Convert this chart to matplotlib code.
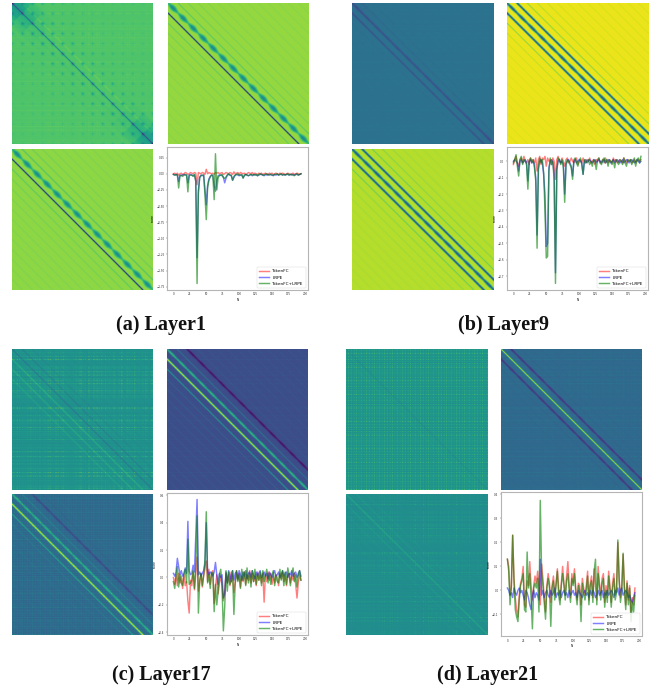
import numpy as np
import matplotlib
matplotlib.use("Agg")
import matplotlib.pyplot as plt

W=667; H=692
N=197; PATCH=14

#x grid of the curves, every second token
xs=list(range(0,196,2))

#--- Layer1 curves
a_fc=[.00,.01,-.01,.01,-.02,.00,.01,-.01,.00,.02,
.01,-.01,.00,.02,.01,.00,.02,.01,-.17,.02,
.01,.00,.02,.01,-.01,.07,.00,.02,.01,.00,
.01,-.01,.02,.01,.02,.00,.01,.02,-.01,.00,
.02,.01,.00,.02,.01,-.01,.03,.00,.01,.02,
-.01,.02,.01,.00,.01,-.01,.00,.02,.01,.00,
.02,-.01,.01,.00,-.01,.01,.00,.01,-.01,.00,
.01,.00,-.01,.01,.00,.01,-.01,.00,.01,.00,
-.01,.01,.00,.01,.00,-.01,.00,.01,.00,-.01,
.00,.01,-.01,.00,.01,.00,-.01,.00]
a_lrpe=[-.01,-.02,-.01,-.02,-.12,-.02,-.03,-.02,-.01,-.02,
-.02,-.14,-.02,-.01,-.02,-.03,-.02,-.10,-1.30,-.25,
-.05,-.02,-.03,-.02,-.24,-.48,-.18,-.08,-.04,-.02,
-.03,-.18,-.27,-.10,-.03,-.02,-.02,-.03,-.05,-.14,
-.07,-.02,-.01,-.02,-.03,-.10,-.06,-.02,-.01,-.02,
-.03,-.02,-.02,-.06,-.03,-.01,-.02,-.03,-.02,-.01,
-.03,-.02,-.01,-.02,-.03,-.02,-.01,-.01,-.02,-.03,
-.01,-.02,-.01,-.02,-.01,-.02,-.03,-.01,-.02,-.01,
-.02,-.01,-.01,-.02,-.01,-.02,-.01,-.01,-.02,-.01,
-.02,-.01,-.02,-.01,-.01,-.02,-.01,.00]
a_both=[-.01,-.02,-.02,-.01,-.22,-.03,-.02,-.04,-.02,-.01,
-.02,-.28,-.03,-.02,-.02,-.04,-.01,-.12,-1.70,-.30,
-.06,-.03,-.02,-.02,-.33,-.71,-.22,-.10,-.05,-.02,
-.02,-.40,.31,-.25,-.06,-.03,-.02,-.01,-.06,-.07,
-.05,-.02,.00,-.02,-.02,-.10,-.04,-.02,-.01,.00,
-.02,-.02,-.01,-.07,-.02,-.01,-.02,-.03,-.02,-.01,
-.02,-.01,-.02,-.01,-.03,-.01,.00,-.01,-.02,-.02,
-.01,.00,-.02,-.01,-.01,-.02,-.02,-.01,-.01,.00,
-.02,-.01,.00,-.02,-.01,-.02,-.01,.00,-.02,-.01,
-.01,-.02,-.03,-.01,.00,-.02,-.01,.00]

#--- Layer9 curves
b_fc=[-.02,.01,.03,-.01,-.03,.01,.02,-.01,.03,.00,
-.01,.01,-.02,.02,.00,.01,-.01,.02,-.06,.01,
.03,-.02,.02,.01,.03,-.03,.02,.00,.01,-.02,
.02,.00,-.11,.01,.03,.00,-.01,.02,.00,-.03,
.01,.02,-.01,.00,.02,.00,-.01,.01,.02,-.02,
.00,.01,-.01,.02,.00,-.01,.01,.00,.02,-.01,
.00,.01,-.02,.01,.00,.02,-.01,.00,.01,-.01,
.02,.00,-.01,.01,.00,-.01,.02,.00,.01,-.01,
.00,.01,.00,-.01,.02,.00,-.01,.01,.00,.01,
-.01,.00,.01,-.01,.00,.01,.00,.01]
b_lrpe=[.00,.01,.00,-.01,-.06,.00,.01,-.01,.00,.01,
-.01,-.12,.00,.01,-.01,.00,-.02,-.10,-.45,-.05,
.00,.01,-.01,-.08,-.20,-.52,-.50,-.04,.00,.01,
-.01,-.08,-.68,-.05,.00,.01,-.01,.00,-.02,-.20,
-.02,.00,.01,-.01,-.03,-.09,.00,.01,-.01,.00,
.01,.00,-.01,-.08,.00,.01,-.01,.00,.01,.00,
-.01,.00,.01,-.01,.00,.01,.00,-.01,.00,.01,
-.01,.00,.01,.00,-.01,.00,.01,-.01,.00,.01,
.00,-.01,.00,.01,-.01,.00,.01,.00,-.01,.00,
.01,.00,-.01,.00,.01,.00,-.01,.00]
b_both=[-.01,.01,.04,-.03,-.09,.01,.03,-.02,.01,.00,
-.02,-.17,.00,.02,-.01,.01,-.04,-.12,-.53,-.04,
.02,-.01,.01,-.07,-.30,-.59,-.58,-.06,.02,-.02,
.00,-.12,-.745,-.06,.02,.01,-.02,.01,-.04,-.25,
-.02,.01,.00,-.02,-.04,-.11,.01,.02,-.01,-.03,
.00,.02,-.02,-.08,.01,-.01,.00,.01,-.02,.00,
-.03,.01,.00,-.05,.01,.02,-.01,-.02,.01,.02,
-.01,.01,-.03,.01,.00,-.02,.01,-.04,.01,.00,
-.02,.01,.00,-.02,.02,-.01,-.03,.01,.00,.01,
-.02,.00,.02,-.03,.01,.02,-.01,.03]

#--- Layer17 curves
c_fc=[.00,-.05,.02,-.06,.03,-.04,.01,-.08,.02,-.06,
-.03,-.17,-.26,-.02,-.06,.04,-.09,.02,.15,-.10,
-.04,.03,-.07,.01,.06,.12,-.03,.06,-.05,.02,
.05,-.19,-.07,.02,-.12,-.04,.01,-.06,-.17,-.10,
.03,-.04,.02,-.06,.04,.01,-.11,-.03,.05,-.02,
.03,-.07,.01,-.03,.04,-.05,.02,-.02,.05,-.04,
.03,-.03,.01,-.06,.04,-.02,.02,-.04,.03,-.18,
.02,-.03,.04,-.02,.03,-.05,.01,-.04,.02,.00,
-.06,.03,-.01,.04,-.03,.02,-.06,.01,.03,-.04,
.02,-.02,.03,-.05,-.15,-.04,.02,-.02]
c_lrpe=[.03,.01,.04,.14,.08,.02,.05,.01,.03,.07,
.03,.41,.05,.02,.03,.09,.04,.30,.57,.02,
.04,.01,.03,.05,.10,.40,.05,.02,.04,.03,
.01,.04,.11,.02,-.05,.03,.00,.02,-.15,-.12,
.04,-.04,.05,.02,-.03,.05,-.02,.03,.04,-.01,
.05,.02,-.02,.04,.01,.05,-.01,.03,.04,.00,
.05,.02,-.01,.04,.01,.03,.05,.00,.02,.04,
.01,.03,-.01,.04,.02,.00,.03,.05,.01,.02,
.04,.00,.02,.05,.01,.03,.04,.00,.03,.02,
.05,.01,.03,.04,.00,.02,.05,.01]
c_both=[-.03,-.08,.01,.08,-.07,.02,-.04,-.06,.02,.06,
-.04,.28,-.05,-.04,-.02,.05,-.08,.10,.45,-.26,
-.02,.03,-.06,.02,.13,.48,-.04,.02,-.08,.04,
.03,-.25,-.05,-.20,-.10,.02,.06,-.07,-.39,-.22,
.05,-.10,.04,-.05,-.03,.05,-.27,-.05,.05,-.03,
.02,-.08,.06,-.02,.04,-.06,.07,-.04,.03,-.07,
.05,-.03,.06,-.05,.03,-.02,.04,-.06,.05,-.03,
.02,.06,-.04,.03,-.05,.02,.05,-.06,.01,-.03,
-.04,.06,-.02,.05,-.06,.04,-.05,.07,.02,-.06,
.03,.07,-.03,.02,-.07,.03,.05,-.02]

#--- Layer21 curves
d_fc=[.13,.10,-.02,.01,.23,.05,-.03,-.08,-.11,-.02,
.03,.05,.10,-.06,-.07,.04,.02,.12,.02,-.04,
.02,.06,.03,.08,.02,-.06,.11,.05,-.03,-.09,
.02,.07,.03,-.05,.02,.06,-.02,.03,.09,.01,
-.04,.03,.10,.03,-.02,.06,.12,.02,-.03,.07,
.03,.09,.01,-.04,.03,.02,-.06,.05,.01,-.02,
.02,.08,-.04,.03,.06,-.03,.09,.02,-.04,.10,
.03,-.02,.05,.07,-.05,.02,-.03,.08,.02,-.05,
.03,.07,-.02,.01,.20,.05,-.03,.02,.15,.02,
-.06,.04,-.04,.02,-.09,-.03,-.06,.01]
d_lrpe=[.01,.00,-.02,-.01,-.03,.01,-.01,-.02,.00,.01,
-.01,.00,-.02,-.04,.00,-.01,-.03,-.06,-.08,-.02,
.00,-.03,-.01,-.02,-.04,.13,-.02,.00,-.03,-.01,
.00,-.02,-.03,.00,-.02,-.01,.01,-.03,-.01,-.02,
.00,-.03,-.01,.00,-.02,-.01,-.03,.00,-.02,-.01,
.00,-.02,-.01,-.03,.00,-.01,-.02,-.03,-.01,.00,
-.02,-.01,-.03,.00,-.02,.00,-.01,-.03,-.02,.00,
-.02,-.01,.00,-.03,-.01,-.02,.00,-.02,-.01,.00,
-.01,-.03,.00,-.01,.01,-.02,.00,.01,-.02,-.01,
.00,-.01,-.03,-.02,-.04,-.05,-.03,-.01]
d_both=[.13,.08,-.06,.02,.23,.04,-.08,-.11,-.13,-.04,
.02,.04,.07,-.08,-.09,.16,.01,.07,-.03,-.16,
.01,.03,.01,.05,-.09,.375,.08,.02,-.05,-.12,
.01,.05,.01,-.15,.01,.04,-.04,.02,.08,-.02,
-.06,.02,.07,.02,-.04,.04,.07,.00,-.05,.05,
.02,.07,-.01,-.06,.02,.00,-.13,.03,-.01,-.04,
.00,.06,-.06,.02,.04,-.05,.08,.13,-.06,.07,
.01,-.04,.03,.05,-.07,.00,-.05,.06,.00,-.07,
.01,.05,-.04,-.01,.21,.04,-.05,.00,.155,.00,
-.08,.03,-.06,.01,-.13,-.05,-.09,-.02]

labels=["TokenFC","LRPE","TokenFC+LRPE"]
captions=["(a) Layer1","(b) Layer9","(c) Layer17","(d) Layer21"]

#line chart y ticks and y limits
a_ticks=[0.25,0,-0.25,-0.5,-0.75,-1.0,-1.25,-1.5,-1.75]
b_ticks=[0,-0.1,-0.2,-0.3,-0.4,-0.5,-0.6,-0.7]
c_ticks=[0.6,0.4,0.2,0,-0.2,-0.4]
d_ticks=[0.4,0.3,0.2,0.1,0,-0.1]
x_ticks=[0,25,50,75,100,125,150,175,200]

#heatmaps: colormap level of each diagonal band, index 6 is the main diagonal
#lower index = above the diagonal, one step = one patch row
a1_bands=[.00,.00,.00,.00,-.01,.06,-.34,-.02,-.01,-.01,.00,.00,.00]
a2_bands=[-.03,-.03,-.04,-.05,-.07,-.12,-.42,-.85,-.10,-.06,-.05,-.04,-.03]
a3_bands=[-.03,-.03,-.04,-.05,-.07,-.14,-.40,-.82,-.10,-.06,-.05,-.04,-.03]
b1_bands=[-.01,-.01,-.01,-.01,-.02,-.03,-.14,-.12,-.02,-.01,-.01,-.01,-.01]
b2_bands=[-.04,-.05,-.07,-.10,-.18,-.78,-.80,-.78,-.18,-.08,-.05,-.04,-.03]
b3_bands=[-.03,-.04,-.06,-.09,-.15,-.72,-.72,-.72,-.15,-.07,-.05,-.04,-.03]
c1_bands=[-.02,-.02,-.02,-.03,-.05,-.10,-.14,.14,.12,.08,.02,.00,.00]
c2_bands=[.03,.03,.03,.04,-.22,.14,.48,.74,.32,.07,.06,.05,.04]
c3_bands=[.01,.01,.02,-.03,-.14,.10,.34,.62,.26,.06,.03,.03,.02]
d1_bands=[.00,.00,.00,.00,.00,.00,-.05,.02,.00,.00,.00,.00,.00]
d2_bands=[-.01,-.01,-.02,-.02,-.03,-.22,.60,-.22,-.03,-.02,-.02,-.01,-.01]
d3_bands=[.00,.01,.01,.01,.03,.05,.12,.06,.03,.02,.01,.00,.00]

#shape of a blob along one patch period
patch_cycle=[.5,.6,.7,.8,.9,1,1,1,1,.9,.8,.7,.6,.5]
#fall off of the texture inside one patch
patch_wave=[1,.7,.4,.2,.08,0,0,0,0,0,0,.05,.2,.5]
#grid texture strength per diagonal band distance
a1_env=[1,.8,.55,.4,.3,.25,.2,.18,.15,.15,.12,.12,.12,.12]
#extra dark corners by patch counted from the nearest end of the diagonal
a1_ends=[1,.5,.15,.05,0,0,0,0]
#bright rows and columns seen in the noisy maps
row_marks=[0,.3,1,.1,.6,0,.2,.9,.4,0,.7,.1,0,.5,1,.2,.4]
col_marks=[.5,0,.8,.2,1,.1,.4,.7,0,.3,.9,.1,.6,0,.2,1,.4,.1,.7,0,.5,.3,.8]
row_marks2=[.1,.9,0,.4,.7,.2,1,0,.5,.3,.8,.1,.6,0,.9,.2,.4,.7,0]
col_marks2=[.7,.1,.4,1,0,.6,.2,.9,.3,0,.5,.8,.1,.4,1,.2,0,.7,.3,.6,.1,.9,.4,.2,.5]

def heat(bg, bands, wide, grid=0.0, speck=0.0, rows=row_marks, cols=col_marks, blobs=False):
    """Builds one matrix of colormap levels out of the band lists"""
    i,j=np.indices((N,N))
    d=i-j
    k=np.rint(d/PATCH).astype(int)
    r=np.abs(d-k*PATCH)
    idx=np.clip(k+6,0,12)
    along=((i+j)//2)%PATCH
    cyc=np.array(patch_cycle)[along]
    amp=np.array(bands)[idx]
    hw=np.array(wide)[idx]
    #wide bands follow the cycle, thin ones are plain lines
    if blobs:
        w=np.where(hw>=3,hw*cyc,hw)
        f=np.where(hw>=3,cyc,1)
    else:
        w=np.where(hw>=3,hw*(.55+.45*cyc),hw)
        f=np.where(hw>=3,.75+.25*cyc,1)
    M=bg+amp*np.clip(1-r/w,0,1)*f
    if grid!=0:
        wv=np.array(patch_wave)
        env=np.array(a1_env)[np.clip(np.abs(k),0,13)]
        pos=np.minimum(i+j,2*N-2-i-j)//(2*PATCH)
        ends=np.array(a1_ends)[np.clip(pos,0,7)]*np.clip(1-np.abs(d)/(2.5*PATCH),0,1)
        M=M+grid*(env*wv[i%PATCH]*wv[j%PATCH]+0.7*ends)
    if speck!=0:
        #mostly horizontal streaks, the two row lists have different lengths
        rv=np.array(rows)[i%len(rows)]*np.array(row_marks2)[i%len(row_marks2)]
        cv=np.array(cols)[j%len(cols)]*np.array(col_marks2)[j%len(col_marks2)]
        M=M+speck*(rv*(0.25+1.6*cv)-0.12)
    return M

thin=[1.5]*13
a_wide=[1.5,1.5,1.5,1.5,1.5,1.5,6.5,1.8,1.5,1.5,1.5,1.5,1.5]
b_wide=[1.5,1.5,1.5,1.5,1.5,2.9,4,2.9,1.5,1.5,1.5,1.5,1.5]
c_wide=[1.5,1.5,1.5,1.5,3.6,1.8,3.6,2.9,1.8,1.5,1.5,1.5,1.5]
d_wide=[1.5,1.5,1.5,1.5,1.5,3.5,2.0,3.5,1.5,1.5,1.5,1.5,1.5]

maps=[
 (heat(.73,a1_bands,thin,grid=-.28,speck=.06), heat(.84,a2_bands,a_wide,blobs=True), heat(.83,a3_bands,a_wide,blobs=True)),
 (heat(.38,b1_bands,b_wide,grid=-.03,speck=.02), heat(.97,b2_bands,b_wide), heat(.89,b3_bands,b_wide)),
 (heat(.53,c1_bands,thin,speck=.28), heat(.24,c2_bands,c_wide,speck=.05), heat(.34,c3_bands,c_wide,speck=.12,rows=row_marks2,cols=col_marks2)),
 (heat(.52,d1_bands,thin,speck=.17,rows=row_marks2,cols=col_marks2), heat(.35,d2_bands,d_wide,speck=.10), heat(.50,d3_bands,thin,speck=.15)),
]
curves=[(a_fc,a_lrpe,a_both),(b_fc,b_lrpe,b_both),(c_fc,c_lrpe,c_both),(d_fc,d_lrpe,d_both)]
yticks=[a_ticks,b_ticks,c_ticks,d_ticks]
ylims=[(-1.80,0.415),(-0.785,0.087),(-0.42,0.617),(-0.19,0.41)]

#pixel boxes: left, top, size
heat_left=[(12,168),(352,507),(12,167),(346,501)]
heat_top=[(3,149),(3,149),(349,494),(349,494)]
heat_size=141
line_box=[(167,147,308,290),(507,147,648,290),(167,493,308,635),(501,492,642,636)]
cap_pos=[(161,325),(503,325),(161,675),(488,675)]

def px_axes(fig, l, t, r, b):
    return fig.add_axes([l/W, 1-b/H, (r-l)/W, (b-t)/H])

fig=plt.figure(figsize=(W/100,H/100), dpi=100)

for p in range(4):
    (lx,rx)=heat_left[p]; (ty,by)=heat_top[p]
    for m,(l,t) in zip(maps[p],[(lx,ty),(rx,ty),(lx,by)]):
        ax=px_axes(fig,l,t,l+heat_size,t+heat_size)
        ax.imshow(m,cmap="viridis",vmin=0,vmax=1,aspect="auto",interpolation="bilinear")
        ax.axis("off")
    l,t,r,b=line_box[p]
    ax=px_axes(fig,l,t,r,b)
    for y,c,a,lab in zip(curves[p],["red","blue","green"],[.5,.5,.6],labels):
        ax.plot(xs,y,color=c,alpha=a,lw=1.05,label=lab)
    ax.set_xlim(-9.75,204.75)
    ax.set_ylim(*ylims[p])
    ax.set_xticks(x_ticks)
    ax.set_yticks(yticks[p])
    ax.tick_params(labelsize=2.0,length=1,width=0.25,pad=0.8,colors="#333333")
    ax.set_xlabel("N",fontsize=2.2,labelpad=0.8)
    ax.set_ylabel("score",fontsize=2.2,labelpad=0.8)
    for s in ax.spines.values():
        s.set_linewidth(0.8); s.set_color("#b5b5b5")
    ax.legend(loc="lower right",fontsize=3.1,frameon=True,framealpha=0.85,edgecolor="#cccccc",
              borderpad=0.5,labelspacing=0.5,handlelength=2.2).get_frame().set_linewidth(0.3)

for cap,(cx,cy) in zip(captions,cap_pos):
    fig.text(cx/W,1-cy/H,cap,ha="center",va="center",family="Liberation Serif",
             fontweight="bold",fontsize=14.5,color="#111111")

fig.savefig("out.png",dpi=100)
